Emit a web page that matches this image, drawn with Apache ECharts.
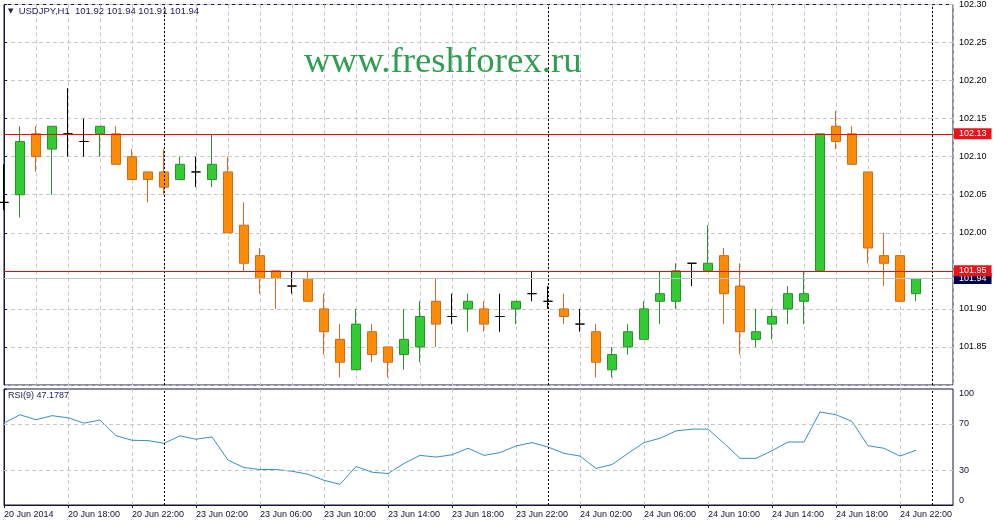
<!DOCTYPE html>
<html><head><meta charset="utf-8">
<script src="https://cdn.jsdelivr.net/npm/echarts@6/dist/echarts.min.js"></script>
<style>html,body{margin:0;padding:0;background:#fff}#c{width:995px;height:523px}</style>
</head><body><div id="c"></div>
<script>
const symbol = 'USDJPY,H1';
const opens  = [102.04,102.05,102.13,102.11,102.13,102.12,102.13,102.13,102.10,102.08,
                102.08,102.07,102.08,102.07,102.08,102.01,101.97,101.95,101.93,101.94,
                101.90,101.86,101.82,101.87,101.85,101.84,101.85,101.91,101.89,101.90,
                101.90,101.89,101.90,101.92,101.91,101.90,101.88,101.87,101.82,101.85,
                101.86,101.91,101.91,101.96,101.95,101.97,101.93,101.86,101.88,101.90,
                101.91,101.95,102.14,102.13,102.08,101.97,101.97,101.92];
const closes = [102.04,102.12,102.10,102.14,102.13,102.12,102.14,102.09,102.07,102.07,
                102.06,102.09,102.08,102.09,102.00,101.96,101.94,101.94,101.93,101.91,
                101.87,101.83,101.88,101.84,101.83,101.86,101.89,101.88,101.89,101.91,
                101.88,101.89,101.91,101.92,101.91,101.89,101.88,101.83,101.84,101.87,
                101.90,101.92,101.95,101.96,101.96,101.92,101.87,101.87,101.89,101.92,
                101.92,102.13,102.12,102.09,101.98,101.96,101.91,101.94];
const lows   = [102.03,102.02,102.08,102.05,102.10,102.10,102.10,102.09,102.07,102.04,
                102.05,102.07,102.06,102.06,102.00,101.95,101.92,101.90,101.92,101.91,
                101.84,101.81,101.82,101.83,101.81,101.82,101.83,101.85,101.88,101.87,
                101.87,101.87,101.88,101.91,101.90,101.88,101.87,101.81,101.81,101.84,
                101.86,101.88,101.90,101.93,101.95,101.88,101.84,101.85,101.86,101.88,
                101.88,101.95,102.11,102.09,101.96,101.93,101.91,101.91];
const highs  = [102.09,102.14,102.14,102.14,102.19,102.15,102.14,102.14,102.11,102.08,
                102.11,102.10,102.10,102.13,102.10,102.04,101.98,101.95,101.95,101.95,
                101.92,101.88,101.90,101.88,101.85,101.90,101.91,101.94,101.92,101.92,
                101.91,101.92,101.91,101.95,101.93,101.92,101.90,101.88,101.85,101.88,
                101.91,101.95,101.96,101.96,102.01,101.98,101.96,101.90,101.90,101.93,
                101.95,102.13,102.16,102.14,102.08,102.00,101.97,101.94];
const rsiValues = [70.6,77.8,73.5,77,75.2,70.6,73.2,59.8,55.8,55.5,
                   53.2,59.6,56.7,58.7,38.7,32.3,30.6,30.6,29.1,26.5,
                   21.3,17.8,33.2,28.3,27.1,35.8,42.8,41.3,43.3,48.9,
                   42.8,45.2,50.9,53.8,50,44.5,42.2,31.5,34.9,44.5,
                   53.8,57.5,63.9,65.4,65.4,53.2,40.2,40.2,46.8,54.3,
                   54.3,80.2,77.8,72,51.1,48.9,42.2,47.18];
const rsiLastText = '47.1787';
const tickLabels = ['20 Jun 2014','20 Jun 18:00','20 Jun 22:00','23 Jun 02:00','23 Jun 06:00',
                    '23 Jun 10:00','23 Jun 14:00','23 Jun 18:00','23 Jun 22:00','24 Jun 02:00',
                    '24 Jun 06:00','24 Jun 10:00','24 Jun 14:00','24 Jun 18:00','24 Jun 22:00'];
const tickEvery = 4;
const daySeparators = [10, 34, 58];
const priceLevels = [102.126, 101.947];
const bidPrice = 101.94;
const rsiLevels = [30, 70];
const rsiTicks = [0, 30, 70, 100];

const candles = opens.map((o, i) => [i, o, closes[i], lows[i], highs[i]]);
const rsiData = rsiValues.map((v, i) => [i, v]);
const labelIdx = tickLabels.map((_, k) => k * tickEvery);
const last = opens.length - 1;
const header = symbol + '  ' + [opens[last], highs[last], lows[last], closes[last]].map(v => v.toFixed(2)).join(' ');

const NAVY = '#14143c';
const GRID = '#c8c8c8';
const FONT = 'Liberation Sans';
const dashed = { show: true, lineStyle: { color: GRID, type: [4, 3], width: 1 } };
const sepLines = daySeparators.map(v => ({ xAxis: v }));

const chart = echarts.init(document.getElementById('c'), null, { renderer: 'canvas' });
chart.setOption({
  animation: false,
  backgroundColor: '#fff',
  title: [
    { text: '{tri|▼}  ' + header, left: 8, top: 6, padding: 0,
      textStyle: { fontSize: 9.5, fontWeight: 'normal', color: '#1b1b5e', fontFamily: FONT,
        rich: { tri: { fontSize: 7, color: '#1b1b5e', fontFamily: 'DejaVu Sans' } } } },
    { text: 'RSI(9) ' + rsiLastText, left: 8, top: 391, padding: 0,
      textStyle: { fontSize: 9, fontWeight: 'normal', color: '#1b1b5e', fontFamily: FONT } },
    { text: 'www.freshforex.ru', left: 304, top: 44, padding: 0,
      textStyle: { fontSize: 36.8, fontWeight: 'normal', color: '#2e9e4f', fontFamily: 'Liberation Serif' } }
  ],
  grid: [
    { left: 4, right: 42, top: 4, height: 381, show: true, borderColor: NAVY, borderWidth: 1, backgroundColor: 'transparent' },
    { left: 4, right: 42, top: 389, height: 116, show: true, borderColor: NAVY, borderWidth: 1, backgroundColor: 'transparent' }
  ],
  xAxis: [
    { type: 'value', gridIndex: 0, min: 0, max: 59.3125, interval: 2,
      axisLabel: { show: false }, axisTick: { show: false }, axisLine: { show: false }, splitLine: dashed },
    { type: 'value', gridIndex: 1, min: 0, max: 59.3125, interval: 2,
      axisLine: { show: true, onZero: false, lineStyle: { color: NAVY } },
      axisTick: { show: true, length: 3, customValues: labelIdx, lineStyle: { color: NAVY } },
      axisLabel: { show: true, customValues: labelIdx, align: 'left', margin: 5, fontSize: 9,
        color: '#141430', fontFamily: FONT,
        formatter: v => tickLabels[Math.round(v / tickEvery)] || '' },
      splitLine: dashed }
  ],
  yAxis: [
    { type: 'value', gridIndex: 0, position: 'right', min: 101.80, max: 102.30, interval: 0.05, scale: true,
      axisLine: { show: true, lineStyle: { color: NAVY } },
      axisTick: { show: true, length: 3, lineStyle: { color: NAVY } },
      axisLabel: { show: true, showMinLabel: false, margin: 6, fontSize: 9, color: '#000', fontFamily: FONT,
        formatter: v => v.toFixed(2) },
      splitLine: dashed },
    { type: 'value', gridIndex: 1, position: 'right', min: 0, max: 100,
      axisLine: { show: true, lineStyle: { color: NAVY } },
      axisTick: { show: true, length: 3, customValues: rsiTicks, lineStyle: { color: NAVY } },
      axisLabel: { show: true, customValues: rsiTicks, margin: 6, fontSize: 9, color: '#141430', fontFamily: FONT,
        verticalAlignMaxLabel: 'top', verticalAlignMinLabel: 'bottom' },
      splitLine: { show: false } }
  ],
  series: [
    { type: 'candlestick', xAxisIndex: 0, yAxisIndex: 0, data: candles, barWidth: 9,
      itemStyle: { color: '#32cd32', color0: '#ff8c00', borderColor: '#2b8f2b', borderColor0: '#d2691e',
        borderColorDoji: '#000000', borderWidth: 1 },
      markLine: { symbol: 'none', silent: true, animation: false,
        data: sepLines.map(s => Object.assign({}, s, { lineStyle: { color: '#000', type: [2, 2], width: 1 }, label: { show: false } }))
      } },
    { type: 'line', xAxisIndex: 0, yAxisIndex: 0, data: [], z: 5,
      markLine: { symbol: 'none', silent: true, animation: false, z: 5,
        data: [
          { yAxis: bidPrice, lineStyle: { color: '#c4c4c4', type: 'solid', width: 1 },
            label: { show: true, position: 'end', distance: 1, formatter: () => bidPrice.toFixed(2),
              backgroundColor: '#00004a', color: '#fff', fontSize: 9, fontFamily: FONT, padding: [1, 5, 0, 5], lineHeight: 10 } }
        ].concat(priceLevels.map(v => ({ yAxis: v, lineStyle: { color: '#ff0000', type: 'solid', width: 1, opacity: 1 },
            label: { show: true, position: 'end', distance: 1, formatter: () => v.toFixed(2),
              backgroundColor: '#e8141c', color: '#fff', fontSize: 9, fontFamily: FONT, padding: [1, 5, 0, 5], lineHeight: 10 } })))
      } },
    { type: 'line', xAxisIndex: 1, yAxisIndex: 1, data: rsiData, showSymbol: false, symbol: 'none',
      lineStyle: { color: '#3b8fbf', width: 1 },
      markLine: { symbol: 'none', silent: true, animation: false,
        data: rsiLevels.map(v => ({ yAxis: v, lineStyle: { color: GRID, type: [4, 3], width: 1 }, label: { show: false } }))
          .concat(sepLines.map(s => Object.assign({}, s, { lineStyle: { color: '#000', type: [2, 2], width: 1 }, label: { show: false } })))
      } }
  ]
});
</script></body></html>
